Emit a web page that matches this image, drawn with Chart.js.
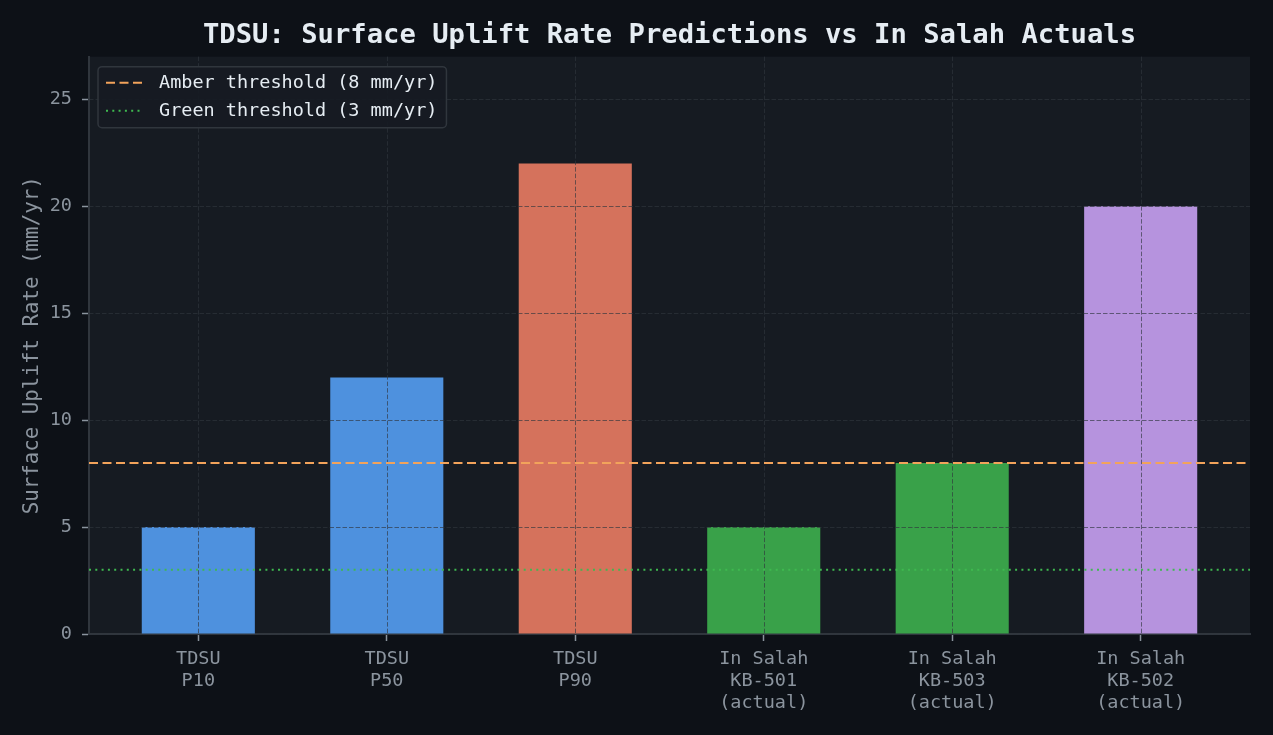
<!DOCTYPE html>
<html>
<head>
<meta charset="utf-8">
<script src="https://cdn.jsdelivr.net/npm/chart.js@4.4.1/dist/chart.umd.min.js"></script>
<style>
  html, body { margin: 0; padding: 0; background: #0d1117; }
</style>
</head>
<body>
<canvas id="graficoUplift" width="1273" height="735"></canvas>
<script>
// datos
const categorias = [
    ['TDSU', 'P10'],
    ['TDSU', 'P50'],
    ['TDSU', 'P90'],
    ['In Salah', 'KB-501', '(actual)'],
    ['In Salah', 'KB-503', '(actual)'],
    ['In Salah', 'KB-502', '(actual)']
];
const upliftRate = [5, 12, 22, 5, 8, 20];
const coloresBarras = [
    'rgba(88, 166, 255, 0.85)',
    'rgba(88, 166, 255, 0.85)',
    'rgba(247, 129, 102, 0.85)',
    'rgba(63, 185, 80, 0.85)',
    'rgba(63, 185, 80, 0.85)',
    'rgba(210, 168, 255, 0.85)'
];
const umbralAmbar = 8;
const umbralVerde = 3;
const yTicks = [0, 5, 10, 15, 20, 25];
const yMax = 27;
const xMin = -0.58;
const xMax = 5.58;

const FUENTE = '"DejaVu Sans Mono", monospace';

// fondo del area de grafico
const fondoPlugin = {
    id: 'fondo',
    beforeDraw(chart) {
        const { ctx, chartArea } = chart;
        ctx.save();
        ctx.fillStyle = '#0d1117';
        ctx.fillRect(0, 0, chart.width, chart.height);
        ctx.fillStyle = '#161b22';
        ctx.fillRect(chartArea.left, chartArea.top, chartArea.right - chartArea.left, chartArea.bottom - chartArea.top);
        ctx.restore();
    }
};

// grilla encima de las barras (como en matplotlib)
const grillaPlugin = {
    id: 'grilla',
    afterDatasetDraw(chart, args) {
        if (args.index !== 0) return;
        const { ctx, chartArea, scales } = chart;
        ctx.save();
        ctx.strokeStyle = 'rgba(48, 54, 61, 0.65)';
        ctx.lineWidth = 1;
        ctx.setLineDash([4.5, 2]);
        ctx.beginPath();
        scales.x.ticks.forEach(t => {
            const px = Math.round(scales.x.getPixelForValue(t.value)) + 0.5;
            ctx.moveTo(px, chartArea.top);
            ctx.lineTo(px, chartArea.bottom);
        });
        scales.y.ticks.forEach(t => {
            const py = Math.round(scales.y.getPixelForValue(t.value)) + 0.5;
            ctx.moveTo(chartArea.left, py);
            ctx.lineTo(chartArea.right, py);
        });
        ctx.stroke();
        ctx.restore();
    }
};

// leyenda dentro del grafico
const leyendaPlugin = {
    id: 'leyenda',
    afterDraw(chart) {
        const { ctx, chartArea } = chart;
        const items = chart.data.datasets.filter(d => d.type === 'line');
        const x0 = chartArea.left + 9;
        const y0 = chartArea.top + 10;
        ctx.save();
        ctx.font = '18.5px ' + FUENTE;
        const anchoTexto = Math.max(...items.map(d => ctx.measureText(d.label).width));
        const w = 61 + anchoTexto + 9;
        const h = 61;
        ctx.fillStyle = 'rgba(22, 27, 34, 0.9)';
        ctx.strokeStyle = '#30363d';
        ctx.lineWidth = 1.5;
        ctx.beginPath();
        ctx.roundRect(x0, y0, w, h, 4);
        ctx.fill();
        ctx.stroke();
        items.forEach((d, i) => {
            const y = y0 + 16 + i * 28;
            ctx.strokeStyle = d.borderColor;
            ctx.lineWidth = d.borderWidth;
            ctx.setLineDash(d.borderDash);
            ctx.beginPath();
            ctx.moveTo(x0 + 8, y);
            ctx.lineTo(x0 + 44, y);
            ctx.stroke();
            ctx.setLineDash([]);
            ctx.fillStyle = '#e6edf3';
            ctx.textBaseline = 'middle';
            ctx.fillText(d.label, x0 + 61, y + 1);
        });
        ctx.restore();
    }
};

const ctxUplift = document.getElementById('graficoUplift');

let upliftChart = new Chart(ctxUplift, {
    type: 'bar',
    data: {
        datasets: [
            {
                type: 'bar',
                label: 'Surface uplift rate',
                data: upliftRate.map((v, i) => ({ x: i, y: v })),
                backgroundColor: coloresBarras,
                borderWidth: 0,
                barPercentage: 0.6,
                categoryPercentage: 1,
                order: 2
            },
            {
                type: 'line',
                label: 'Amber threshold (8 mm/yr)',
                data: [{ x: xMin, y: umbralAmbar }, { x: xMax, y: umbralAmbar }],
                borderColor: '#f2a35b',
                borderWidth: 2,
                borderDash: [9, 4.5],
                pointRadius: 0,
                fill: false,
                order: 1
            },
            {
                type: 'line',
                label: 'Green threshold (3 mm/yr)',
                data: [{ x: xMin, y: umbralVerde }, { x: xMax, y: umbralVerde }],
                borderColor: '#3fb950',
                borderWidth: 2,
                borderDash: [2, 4.3],
                pointRadius: 0,
                fill: false,
                order: 0
            }
        ]
    },
    options: {
        responsive: false,
        animation: false,
        layout: { padding: { left: 0, right: 23, top: 0, bottom: 0 } },
        plugins: {
            legend: { display: false },
            tooltip: { enabled: false },
            title: {
                display: true,
                text: 'TDSU: Surface Uplift Rate Predictions vs In Salah Actuals',
                color: '#e6edf3',
                fullSize: false,
                font: { family: FUENTE, size: 27.2, weight: 'bold' },
                padding: { top: 20, bottom: 4 }
            }
        },
        scales: {
            x: {
                type: 'linear',
                min: xMin,
                max: xMax,
                offset: false,
                afterBuildTicks: s => { s.ticks = categorias.map((c, i) => ({ value: i })); },
                afterFit: s => { s.height = 101; },
                grid: {
                    offset: false,
                    drawOnChartArea: false,
                    tickLength: 7,
                    tickColor: '#8b949e',
                    tickWidth: 1.5
                },
                border: { color: '#30363d', width: 2 },
                ticks: {
                    color: '#8b949e',
                    font: { family: FUENTE, size: 18.5, lineHeight: 1.2 },
                    padding: 7,
                    maxRotation: 0,
                    autoSkip: false,
                    callback: v => categorias[v]
                }
            },
            y: {
                min: 0,
                max: yMax,
                afterBuildTicks: s => { s.ticks = yTicks.map(v => ({ value: v })); },
                afterFit: s => { s.width = 89; },
                grid: {
                    drawOnChartArea: false,
                    tickLength: 7,
                    tickColor: '#8b949e',
                    tickWidth: 1.5
                },
                border: { color: '#30363d', width: 2 },
                ticks: {
                    color: '#8b949e',
                    font: { family: FUENTE, size: 18.5 },
                    padding: 10
                },
                title: {
                    display: true,
                    text: 'Surface Uplift Rate (mm/yr)',
                    color: '#8b949e',
                    font: { family: FUENTE, size: 20.8 },
                    padding: { top: 20, bottom: 0 }
                }
            }
        }
    },
    plugins: [fondoPlugin, grillaPlugin, leyendaPlugin]
});
</script>
</body>
</html>
